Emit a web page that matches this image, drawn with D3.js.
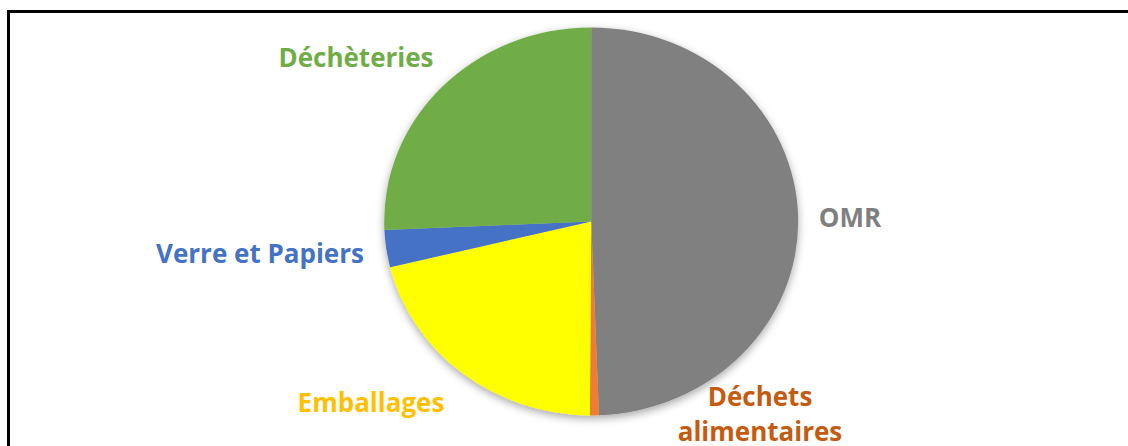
<!DOCTYPE html>
<html><head><meta charset="utf-8">
<script src="https://cdn.jsdelivr.net/npm/d3@7"></script>
<style>html,body{margin:0;padding:0;background:#fff;overflow:hidden}</style>
</head><body>
<svg id="c" width="1128" height="446"></svg>
<script>
const categories = ["OMR", "Déchets alimentaires", "Emballages", "Verre et Papiers", "Déchèteries"];
const values = [49.4, 0.7, 21.1, 3.1, 25.7];
const sliceColors = ["#808080", "#ED7D31", "#FFFF00", "#4472C4", "#70AD47"];
const labelColors = ["#7F7F7F", "#C55A11", "#FFC000", "#4472C4", "#70AD47"];
const labelLines = [["OMR"], ["Déchets", "alimentaires"], ["Emballages"], ["Verre et Papiers"], ["Déchèteries"]];
const labelPos = [[850, 218], [760, 397], [371, 403], [260, 254], [356, 58]];

const svg = d3.select("#c");
svg.append("rect").attr("x", 0).attr("y", 0).attr("width", 1128).attr("height", 446).attr("fill", "#fff");
// frame
svg.append("path").attr("d", "M8.5,446 V11.5 H1128").attr("fill", "none").attr("stroke", "#000").attr("stroke-width", 3);

const defs = svg.append("defs");
const f = defs.append("filter").attr("id", "sh").attr("x", "-20%").attr("y", "-20%").attr("width", "140%").attr("height", "140%");
f.append("feDropShadow").attr("dx", 0).attr("dy", 3).attr("stdDeviation", 4).attr("flood-color", "#000").attr("flood-opacity", 0.35);

const cx = 591.2, cy = 221.4, rx = 207, ry = 194;
const pie = d3.pie().sort(null).value(d => d);
const arc = d3.arc().innerRadius(0).outerRadius(ry);
const g = svg.append("g").attr("transform", `translate(${cx},${cy}) scale(${rx/ry},1)`).attr("filter", "url(#sh)");
g.selectAll("path").data(pie(values)).join("path")
  .attr("d", arc).attr("fill", (d, i) => sliceColors[i]);

const lg = svg.append("g");
categories.forEach((c, i) => {
  const lines = labelLines[i];
  const t = lg.append("text").attr("x", labelPos[i][0]).attr("y", labelPos[i][1])
    .attr("text-anchor", "middle").attr("fill", labelColors[i])
    .attr("font-family", "'Open Sans', sans-serif").attr("font-weight", "bold").attr("font-size", 26);
  lines.forEach((l, j) => {
    t.append("tspan").attr("x", labelPos[i][0]).attr("dy", j === 0 ? "0.35em" : 35).text(l);
  });
});
</script>
</body></html>
